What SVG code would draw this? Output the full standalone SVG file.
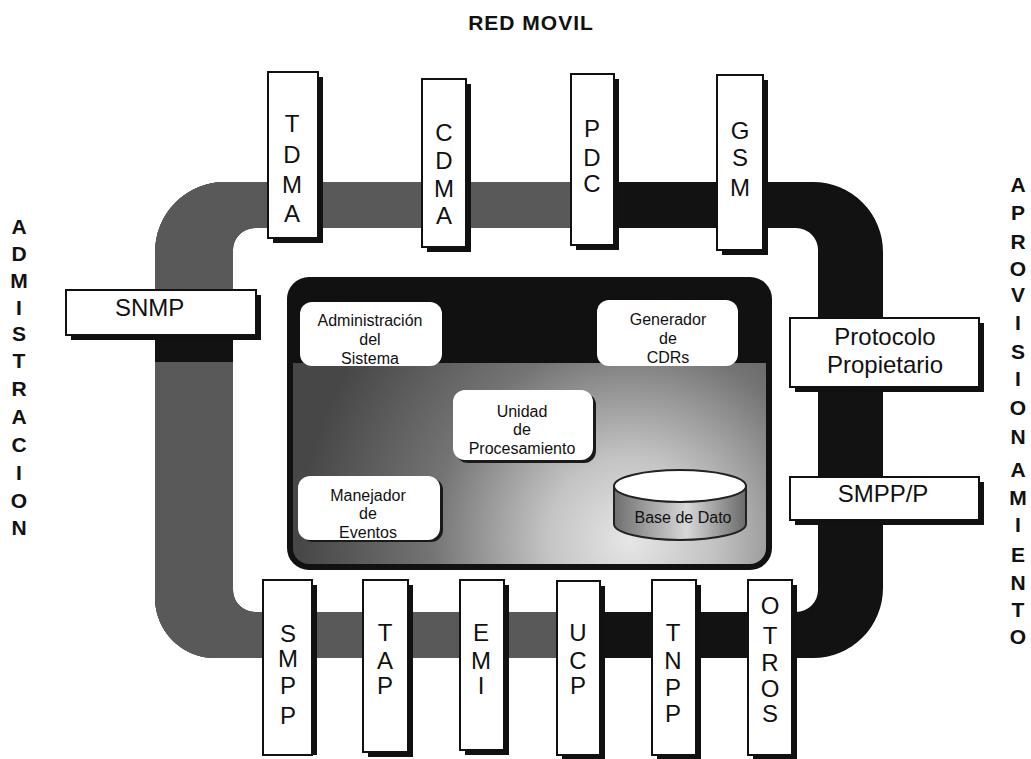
<svg xmlns="http://www.w3.org/2000/svg" width="1031" height="759" viewBox="0 0 1031 759">
<defs>
<style>
.t{font-family:"Liberation Sans",Arial,sans-serif;fill:#111}
.title{font-weight:bold;font-size:21px}
.side{font-weight:bold;font-size:21px;text-anchor:middle}
.v{font-size:24px;text-anchor:middle}
.h{font-size:24px}
.n{font-size:16px;text-anchor:middle}
.box{fill:#fff;stroke:#111;stroke-width:2}
.sh{fill:#111}
.inode{fill:#fff}
.ish{fill:#1a1a1a}
</style>
<clipPath id="ringClip">
<path clip-rule="evenodd" d="M225 182H813A70 70 0 0 1 883 252V588A70 70 0 0 1 813 658H215A60 60 0 0 1 155 598V252A70 70 0 0 1 225 182ZM255 228H796A22 22 0 0 1 818 250V590A22 22 0 0 1 796 612H255A22 22 0 0 1 233 590V250A22 22 0 0 1 255 228Z"/>
</clipPath>
<radialGradient id="coreGrad" gradientUnits="userSpaceOnUse" cx="630" cy="540" r="330">
<stop offset="0" stop-color="#e6e6e6"/>
<stop offset="0.25" stop-color="#c4c4c4"/>
<stop offset="0.6" stop-color="#747474"/>
<stop offset="1" stop-color="#474747"/>
</radialGradient>
<linearGradient id="cylGrad" x1="0" y1="0" x2="1" y2="0">
<stop offset="0" stop-color="#6e6e6e"/>
<stop offset="0.3" stop-color="#a8a8a8"/>
<stop offset="0.55" stop-color="#d8d8d8"/>
<stop offset="0.8" stop-color="#9a9a9a"/>
<stop offset="1" stop-color="#6a6a6a"/>
</linearGradient>
</defs>
<rect width="1031" height="759" fill="#fff"/>

<g id="connectors">
<g clip-path="url(#ringClip)">
<rect x="150" y="175" width="740" height="490" fill="#121212"/>
<rect x="150" y="175" width="421" height="60" fill="#595959"/>
<rect x="150" y="175" width="90" height="490" fill="#595959"/>
<rect x="150" y="605" width="407" height="60" fill="#595959"/>
<rect x="150" y="335" width="90" height="27" fill="#121212"/>
</g>
</g>

<g id="titles">
<text class="t title" x="531" y="30" text-anchor="middle" letter-spacing="1">RED MOVIL</text>
<g class="t side">
<text x="19" y="234">A</text><text x="19" y="261">D</text><text x="19" y="288">M</text><text x="19" y="315">I</text><text x="19" y="341">S</text><text x="19" y="368">T</text><text x="19" y="396">R</text><text x="19" y="424">A</text><text x="19" y="452">C</text><text x="19" y="480">I</text><text x="19" y="508">O</text><text x="19" y="535">N</text>
</g>
<g class="t side">
<text x="1018" y="192">A</text><text x="1018" y="220">P</text><text x="1018" y="249">R</text><text x="1018" y="276">O</text><text x="1018" y="302">V</text><text x="1018" y="330">I</text><text x="1018" y="359">S</text><text x="1018" y="386">I</text><text x="1018" y="415">O</text><text x="1018" y="444">N</text><text x="1018" y="477">A</text><text x="1018" y="505">M</text><text x="1018" y="532">I</text><text x="1018" y="562">E</text><text x="1018" y="590">N</text><text x="1018" y="617">T</text><text x="1018" y="644">O</text>
</g>
</g>

<g id="core">
<rect x="287" y="277" width="485" height="293" rx="22" fill="#111"/>
<path d="M293 363H766V548A16 16 0 0 1 750 564H309A16 16 0 0 1 293 548Z" fill="url(#coreGrad)"/>
</g>

<g id="admin-sistema">
<rect class="inode" x="300" y="302" width="142" height="64" rx="12"/>
<text class="t n" x="370" y="326">Administración</text>
<text class="t n" x="370" y="345">del</text>
<text class="t n" x="370" y="364">Sistema</text>
</g>
<g id="generador-cdrs">
<rect class="inode" x="597" y="300" width="141" height="66" rx="12"/>
<text class="t n" x="668" y="325">Generador</text>
<text class="t n" x="668" y="344">de</text>
<text class="t n" x="668" y="363">CDRs</text>
</g>
<g id="unidad-procesamiento">
<rect class="ish" x="456" y="393" width="140" height="70" rx="12"/>
<rect class="inode" x="453" y="390" width="140" height="70" rx="12"/>
<text class="t n" x="522" y="417">Unidad</text>
<text class="t n" x="522" y="435">de</text>
<text class="t n" x="522" y="454">Procesamiento</text>
</g>
<g id="manejador-eventos">
<rect class="ish" x="301" y="478" width="142" height="64" rx="12"/>
<rect class="inode" x="298" y="476" width="142" height="64" rx="12"/>
<text class="t n" x="368" y="501">Manejador</text>
<text class="t n" x="368" y="519">de</text>
<text class="t n" x="368" y="538">Eventos</text>
</g>
<g id="base-datos">
<path d="M614 486V524A66 16 0 0 0 746 524V486Z" fill="url(#cylGrad)" stroke="#222" stroke-width="2"/>
<ellipse cx="680" cy="486" rx="66" ry="16" fill="#fff" stroke="#222" stroke-width="2"/>
<text class="t n" x="683" y="523" fill="#222">Base de Dato</text>
</g>

<g id="tdma">
<rect class="sh" x="273" y="77" width="50" height="166"/>
<rect class="box" x="268" y="72" width="50" height="166"/>
<g class="t v"><text x="292" y="132">T</text><text x="292" y="163">D</text><text x="292" y="193">M</text><text x="292" y="222">A</text></g>
</g>
<g id="cdma">
<rect class="sh" x="427" y="84" width="44" height="168"/>
<rect class="box" x="422" y="79" width="44" height="168"/>
<g class="t v"><text x="444" y="141">C</text><text x="444" y="169">D</text><text x="444" y="197">M</text><text x="444" y="224">A</text></g>
</g>
<g id="pdc">
<rect class="sh" x="576" y="79" width="43" height="171"/>
<rect class="box" x="571" y="74" width="43" height="171"/>
<g class="t v"><text x="592" y="137">P</text><text x="592" y="166">D</text><text x="592" y="192">C</text></g>
</g>
<g id="gsm">
<rect class="sh" x="722" y="80" width="46" height="175"/>
<rect class="box" x="717" y="75" width="46" height="175"/>
<g class="t v"><text x="740" y="139">G</text><text x="740" y="166">S</text><text x="740" y="196">M</text></g>
</g>

<g id="snmp">
<rect class="sh" x="71" y="295" width="190" height="45"/>
<rect class="box" x="66" y="290" width="190" height="45"/>
<text class="t h" x="115" y="316">SNMP</text>
</g>
<g id="protocolo-propietario">
<rect class="sh" x="795" y="323" width="189" height="69"/>
<rect class="box" x="790" y="318" width="189" height="69"/>
<text class="t h" x="885" y="345" text-anchor="middle">Protocolo</text>
<text class="t h" x="885" y="373" text-anchor="middle">Propietario</text>
</g>
<g id="smpp-p">
<rect class="sh" x="795" y="482" width="189" height="43"/>
<rect class="box" x="790" y="477" width="189" height="43"/>
<text class="t h" x="883" y="502" text-anchor="middle">SMPP/P</text>
</g>

<g id="smpp">
<rect class="sh" x="268" y="585" width="49" height="170"/>
<rect class="box" x="263" y="580" width="49" height="175"/>
<g class="t v"><text x="288" y="642">S</text><text x="288" y="667">M</text><text x="288" y="694">P</text><text x="288" y="724">P</text></g>
</g>
<g id="tap">
<rect class="sh" x="368" y="585" width="45" height="172"/>
<rect class="box" x="363" y="580" width="45" height="172"/>
<g class="t v"><text x="385" y="641">T</text><text x="385" y="669">A</text><text x="385" y="694">P</text></g>
</g>
<g id="emi">
<rect class="sh" x="465" y="585" width="44" height="170"/>
<rect class="box" x="460" y="580" width="44" height="170"/>
<g class="t v"><text x="481" y="641">E</text><text x="481" y="669">M</text><text x="481" y="694">I</text></g>
</g>
<g id="ucp">
<rect class="sh" x="562" y="586" width="43" height="173"/>
<rect class="box" x="557" y="581" width="43" height="174"/>
<g class="t v"><text x="578" y="641">U</text><text x="578" y="669">C</text><text x="578" y="694">P</text></g>
</g>
<g id="tnpp">
<rect class="sh" x="657" y="585" width="44" height="174"/>
<rect class="box" x="652" y="580" width="44" height="175"/>
<g class="t v"><text x="673" y="641">T</text><text x="673" y="669">N</text><text x="673" y="696">P</text><text x="673" y="722">P</text></g>
</g>
<g id="otros">
<rect class="sh" x="753" y="585" width="44" height="174"/>
<rect class="box" x="748" y="580" width="44" height="175"/>
<g class="t v"><text x="770" y="614">O</text><text x="770" y="644">T</text><text x="770" y="671">R</text><text x="770" y="697">O</text><text x="770" y="722">S</text></g>
</g>
</svg>
